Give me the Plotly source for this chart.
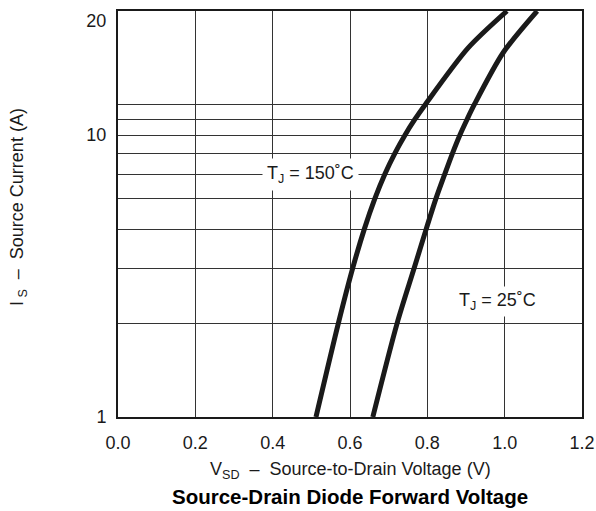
import plotly.graph_objects as go

# Data
current_150 = [1, 2, 3, 4, 5, 6, 7, 8, 9, 10, 15.2, 20]
vsd_150c = [0.512, 0.570, 0.607, 0.637, 0.664, 0.690, 0.716, 0.742, 0.768, 0.794, 0.905, 1.006]
current_25 = [1, 2, 3, 4, 5, 6, 7, 8, 9, 10, 14.7, 20]
vsd_25c = [0.659, 0.722, 0.766, 0.797, 0.822, 0.845, 0.865, 0.884, 0.903, 0.921, 0.996, 1.084]

x_ticks = [0.0, 0.2, 0.4, 0.6, 0.8, 1.0, 1.2]
y_grid = [2, 3, 4, 5, 6, 7, 8, 9, 10]
y_tick_text = ["1", "10", "20"]
y_tick_pos = [1, 8, 18.6]

FONT = "Liberation Sans, Arial, sans-serif"
INK = "#1a1a1a"

fig = go.Figure()
for xs, ys in ((vsd_150c, current_150), (vsd_25c, current_25)):
    fig.add_trace(go.Scatter(x=xs, y=ys, mode="lines",
                             line=dict(color=INK, width=5, shape="spline", smoothing=0.8),
                             showlegend=False, hoverinfo="skip"))

fig.add_annotation(x=0.497, y=0.778, xref="x", yref="y", showarrow=False,
                   text="T<sub>J</sub> = 150˚C", bgcolor="white",
                   font=dict(family=FONT, size=18, color=INK), borderpad=4)
fig.add_annotation(x=0.982, y=0.37, xref="x", yref="y", showarrow=False,
                   text="T<sub>J</sub> = 25˚C", bgcolor="white",
                   font=dict(family=FONT, size=18, color=INK), borderpad=3)

# axis titles and caption
fig.add_annotation(x=-0.2155, y=0.517, xref="paper", yref="paper", showarrow=False,
                   text="I<sub> S</sub>  –  Source Current (A)", textangle=-90,
                   font=dict(family=FONT, size=18, color=INK), xanchor="center", yanchor="middle")
fig.add_annotation(x=0.5, y=-0.133, xref="paper", yref="paper", showarrow=False,
                   text="V<sub>SD</sub>  –  Source-to-Drain Voltage (V)",
                   font=dict(family=FONT, size=18, color=INK), yanchor="middle")
fig.add_annotation(x=0.5, y=-0.197, xref="paper", yref="paper", showarrow=False,
                   text="<b>Source-Drain Diode Forward Voltage</b>",
                   font=dict(family=FONT, size=20.5, color="black"), yanchor="middle")

fig.update_xaxes(range=[0, 1.2], tickvals=x_ticks, ticktext=[f"{v:.1f}" for v in x_ticks],
                 showgrid=True, gridcolor="#333", gridwidth=1,
                 showline=True, linecolor=INK, linewidth=2, mirror=True,
                 ticks="", zeroline=False, automargin=False, ticklabelstandoff=8,
                 tickfont=dict(family=FONT, size=18, color=INK))
fig.update_yaxes(type="log", range=[0, 1.30103], tickvals=y_tick_pos, ticktext=y_tick_text,
                 showgrid=False,
                 minor=dict(tickvals=y_grid, showgrid=True, gridcolor="#333", gridwidth=1, ticks=""),
                 showline=True, linecolor=INK, linewidth=2, mirror=True,
                 ticks="", zeroline=False, automargin=False, ticklabelstandoff=6,
                 tickfont=dict(family=FONT, size=18, color=INK))

fig.update_layout(width=596, height=511, margin=dict(l=118, r=14, t=11, b=94),
                  plot_bgcolor="white", paper_bgcolor="white",
                  font=dict(family=FONT))
fig.write_html("out.html", config={"displayModeBar": False},
               post_script="document.body.style.margin='0';")
